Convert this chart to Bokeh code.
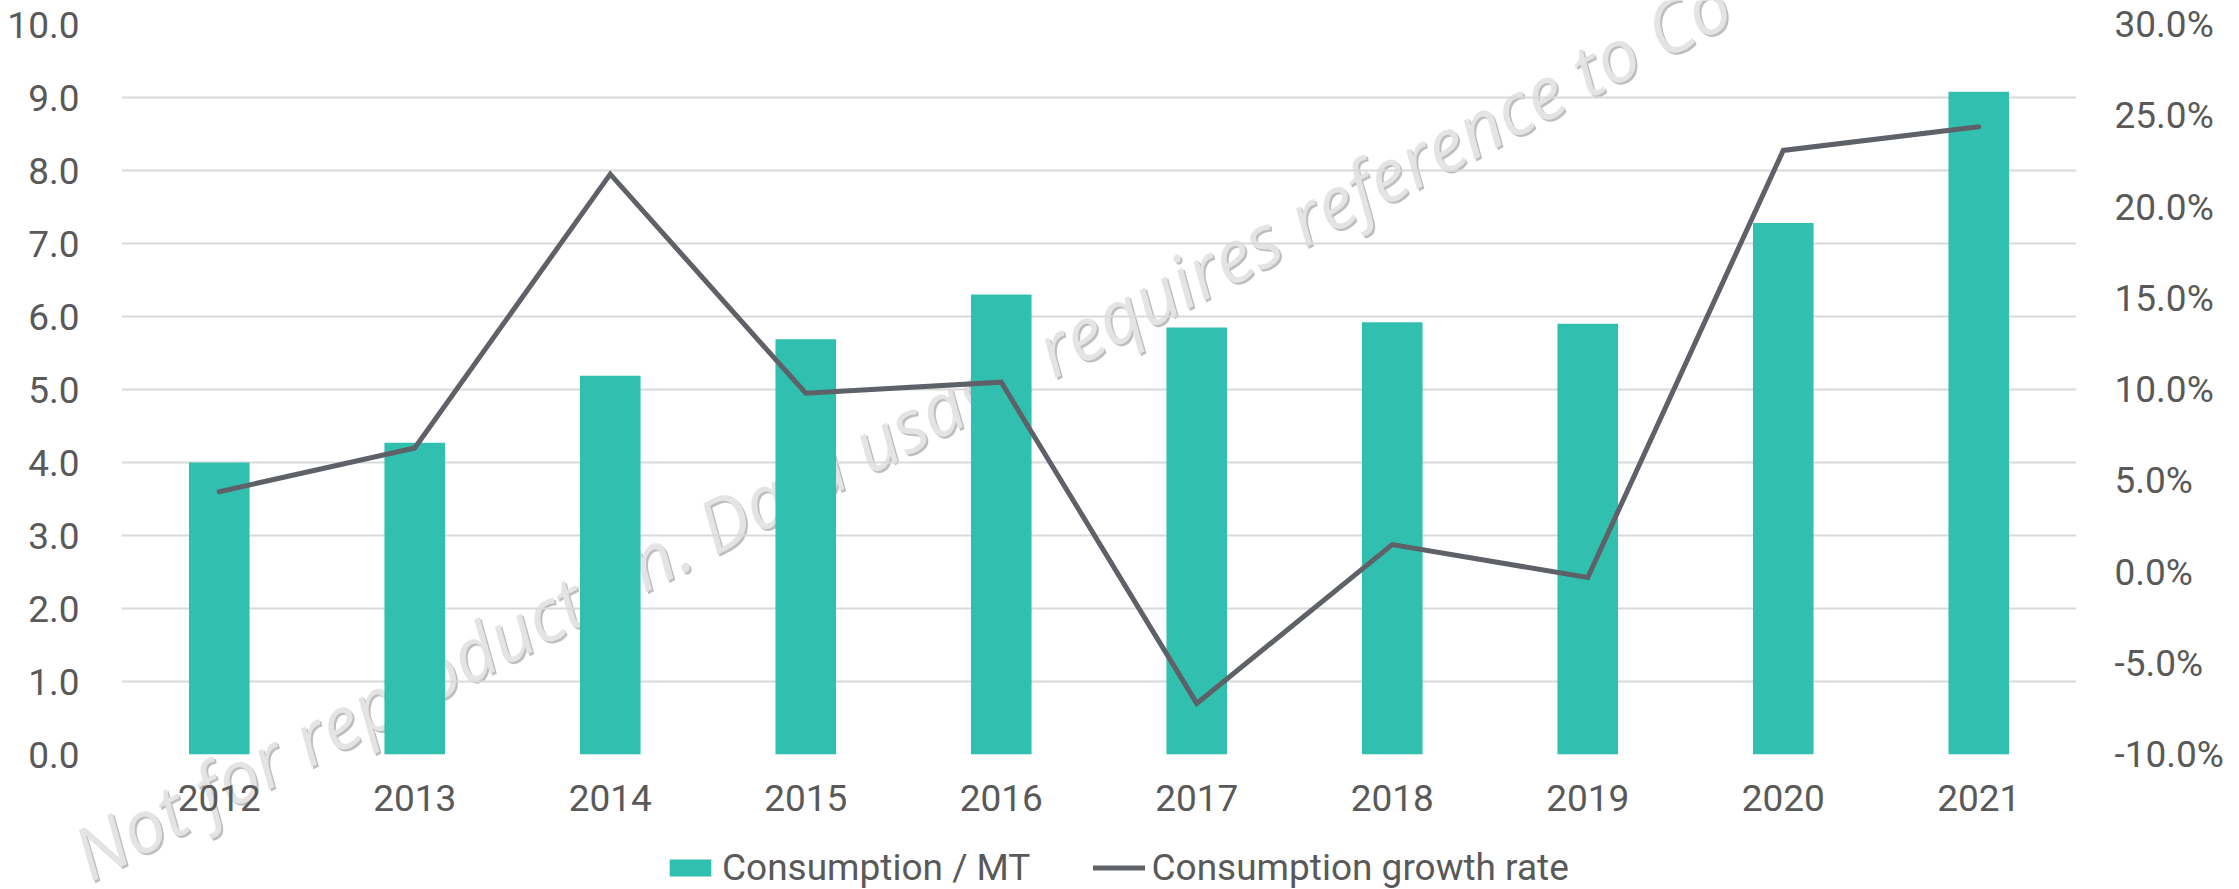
from bokeh.plotting import figure
from bokeh.models import (FactorRange, Range1d, LinearAxis, FixedTicker, GridBox, Column,
                          NumeralTickFormatter, Legend, LegendItem, Label)
from bokeh.embed import file_html
from bokeh.resources import INLINE

# ---- data ----
years = ["2012", "2013", "2014", "2015", "2016", "2017", "2018", "2019", "2020", "2021"]
consumption = [4.00, 4.27, 5.19, 5.69, 6.30, 5.85, 5.92, 5.90, 7.28, 9.08]
growth_rate = [0.044, 0.068, 0.218, 0.098, 0.104, -0.072, 0.015, -0.003, 0.231, 0.244]
left_ticks = [0, 1, 2, 3, 4, 5, 6, 7, 8, 9, 10]
right_ticks = [-0.10, -0.05, 0.0, 0.05, 0.10, 0.15, 0.20, 0.25, 0.30]
bar_label = "Consumption / MT"
line_label = "Consumption growth rate"
watermark = "Not for reproduction. Data usage requires reference to Co"

W, H = 2239, 889
TEXT = "#595959"
FONT = "Roboto"
FS = "37px"
BAR_COLOR = "#31BFB0"
LINE_COLOR = "#5F6168"

# ---------- back layer: watermark + legend (frame = whole canvas) ----------
back = figure(width=W, height=H, x_range=Range1d(0, 1), y_range=Range1d(0, 1),
              x_axis_type=None, y_axis_type=None, output_backend="svg",
              toolbar_location=None, min_border=0)
back.grid.visible = False
back.outline_line_color = None
back.background_fill_color = "white"
back.border_fill_color = "white"

WM_STYLE = dict(text=watermark, angle=27.6, angle_units="deg",
                x_units="screen", y_units="screen",
                text_font="Open Sans", text_font_style="italic", text_font_size="73px",
                text_baseline="alphabetic", text_align="left")
back.add_layout(Label(x=79, y=30, text_color="#BEBEBE", **WM_STYLE))
back.add_layout(Label(x=77, y=32, text_color="#E4E4E4", **WM_STYLE))

# legend swatches (styled like the series; placed outside the visible range)
sw_bar = back.vbar(x=[-5], top=[-4], bottom=[-4.5], width=0.1,
                   fill_color=BAR_COLOR, line_color=None)
sw_line = back.line(x=[-5, -4.5], y=[-5, -5], line_color=LINE_COLOR,
                    line_width=5, line_cap="round")
legend = Legend(items=[LegendItem(label=bar_label, renderers=[sw_bar]),
                       LegendItem(label=line_label, renderers=[sw_line])],
                orientation="horizontal", location=(664, 0),
                glyph_width=52, glyph_height=21, label_standoff=6, spacing=63,
                padding=0, margin=0, border_line_color=None,
                background_fill_alpha=0,
                label_text_font=FONT, label_text_font_size=FS,
                label_text_color=TEXT)
back.add_layout(legend)

# ---------- front layer: the chart itself (transparent) ----------
p = figure(x_range=FactorRange(*years, range_padding=0, factor_padding=0),
           y_range=Range1d(0, 10),
           width=W, height=H, output_backend="svg", toolbar_location=None,
           min_border_left=121, min_border_right=163,
           min_border_top=24, min_border_bottom=135)
p.extra_y_ranges = {"pct": Range1d(-0.10, 0.30)}
p.outline_line_color = None
p.background_fill_alpha = 0
p.border_fill_alpha = 0

bars = p.vbar(x=years, top=consumption, width=0.31, fill_color=BAR_COLOR, line_color=None)
line = p.line(x=years, y=growth_rate, y_range_name="pct", line_color=LINE_COLOR,
              line_width=5, line_cap="round", line_join="miter")

for ax in (p.xaxis[0], p.yaxis[0]):
    ax.axis_line_color = None
    ax.major_tick_line_color = None
    ax.minor_tick_line_color = None
    ax.major_label_text_font = FONT
    ax.major_label_text_font_size = FS
    ax.major_label_text_color = TEXT

p.yaxis[0].ticker = FixedTicker(ticks=left_ticks)
p.yaxis[0].formatter = NumeralTickFormatter(format="0.0")
p.yaxis[0].major_label_standoff = 36
p.xaxis[0].major_label_standoff = 24

right = LinearAxis(y_range_name="pct", ticker=FixedTicker(ticks=right_ticks),
                   formatter=NumeralTickFormatter(format="0.0%"))
right.axis_line_color = None
right.major_tick_line_color = None
right.minor_tick_line_color = None
right.major_label_text_font = FONT
right.major_label_text_font_size = FS
right.major_label_text_color = TEXT
right.major_label_standoff = 32
p.add_layout(right, "right")

p.xgrid.visible = False
p.ygrid.ticker = FixedTicker(ticks=left_ticks)
p.ygrid.grid_line_color = "#D9D9D9"
p.ygrid.grid_line_width = 2

layout = GridBox(children=[(Column(children=[back]), 0, 0), (p, 0, 0)])

open("out.html", "w").write(file_html(layout, INLINE))
